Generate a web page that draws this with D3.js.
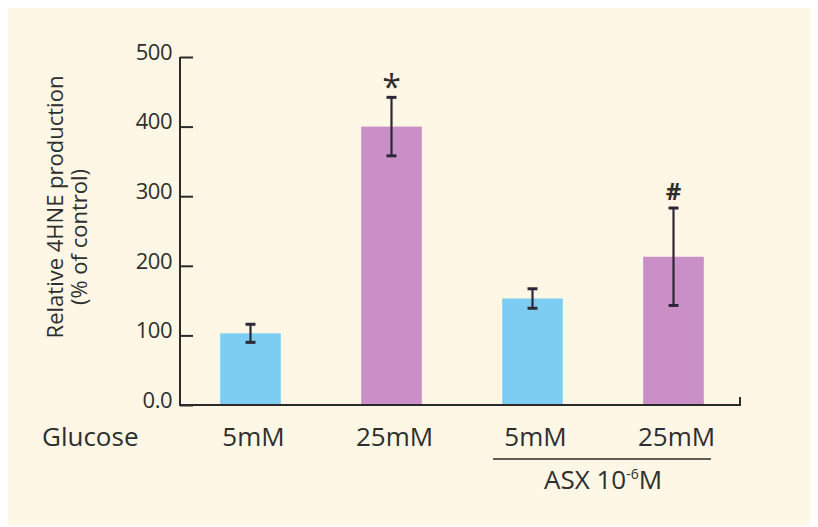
<!DOCTYPE html>
<html lang="en">
  <head>
    <meta charset="utf-8" />
    <title>4HNE production</title>
    <style>
      body { margin: 0; background: #fff; }
      #vis text { font-family: "Open Sans", Lato, sans-serif; fill: #2e2e2e; }
    </style>
  </head>
  <body>
    <div id="vis"></div>
    <script src="https://d3js.org/d3.v7.min.js"></script>
    <script>
      // data
      const groups = ["5mM", "25mM", "5mM ", "25mM "];
      const means = [103, 400, 153, 213];
      const errs = [13, 42, 14, 70];
      const marks = ["", "*", "", "#"];
      const barColors = ["#7dcdf2", "#c98fc6", "#7dcdf2", "#c98fc6"];
      const yTicks = [0, 100, 200, 300, 400, 500];

      const W = 818, H = 527;
      const svg = d3.select("#vis").append("svg").attr("width", W).attr("height", H);

      svg.append("rect").attr("x", 8).attr("y", 8).attr("width", 802).attr("height", 517)
        .attr("fill", "#fef7e6");

      const x = d3.scaleBand().domain(groups).range([180, 744]).paddingInner(0.57).paddingOuter(0.285);
      const y = d3.scaleLinear().domain([0, 500]).range([405, 57]);

      // bars
      svg.selectAll("rect.bar").data(groups).enter().append("rect")
        .attr("class", "bar")
        .attr("x", d => x(d))
        .attr("width", x.bandwidth())
        .attr("y", (d, i) => y(means[i]))
        .attr("height", (d, i) => y(0) - y(means[i]))
        .attr("fill", (d, i) => barColors[i]);

      // error bars
      const eb = svg.append("g").attr("stroke", "#2c2838").attr("stroke-width", 2.2);
      groups.forEach((g, i) => {
        const cx = x(g) + x.bandwidth() / 2;
        eb.append("line").attr("x1", cx).attr("x2", cx).attr("y1", y(means[i] - errs[i])).attr("y2", y(means[i] + errs[i]));
        [means[i] - errs[i], means[i] + errs[i]].forEach(v => {
          eb.append("line").attr("x1", cx - 5).attr("x2", cx + 5).attr("y1", y(v)).attr("y2", y(v)).attr("stroke-width", 3);
        });
        if (marks[i] === "*") {
          svg.append("text").attr("x", cx).attr("y", y(means[i] + errs[i]) + 2)
            .attr("text-anchor", "middle").attr("font-size", 34).text(marks[i]);
        } else if (marks[i]) {
          svg.append("text").attr("x", cx).attr("y", y(means[i] + errs[i]) - 8)
            .attr("text-anchor", "middle").attr("font-size", 24).attr("font-weight", "bold").text(marks[i]);
        }
      });

      // y axis
      const yAxis = d3.axisRight(y).tickValues(yTicks).tickSize(13).tickFormat(d => d === 0 ? "0.0" : d);
      const ya = svg.append("g").attr("transform", "translate(180,0)").call(yAxis);
      ya.select(".domain").remove();
      ya.selectAll(".tick line").attr("stroke", "#2a2a2a").attr("stroke-width", 2);
      ya.selectAll(".tick text").attr("x", -8).attr("text-anchor", "end").attr("dy", "0.1em")
        .attr("font-size", 22).attr("letter-spacing", -0.5);
      svg.append("line").attr("x1", 180).attr("x2", 180).attr("y1", y(500)).attr("y2", y(0) + 1)
        .attr("stroke", "#2a2a2a").attr("stroke-width", 2);

      // x axis line with small end hook
      svg.append("path").attr("d", `M180,${y(0)}H740V${y(0) - 8}`)
        .attr("fill", "none").attr("stroke", "#2a2a2a").attr("stroke-width", 2);

      // category labels
      svg.selectAll("text.cat").data(groups).enter().append("text")
        .attr("class", "cat")
        .attr("x", d => x(d) + x.bandwidth() / 2 + 3)
        .attr("y", 446).attr("text-anchor", "middle").attr("font-size", 26)
        .text(d => d.trim());
      svg.append("text").attr("x", 42).attr("y", 446).attr("font-size", 26).text("Glucose");

      // ASX bracket
      svg.append("line").attr("x1", 493).attr("x2", 711).attr("y1", 459).attr("y2", 459)
        .attr("stroke", "#2a2a2a").attr("stroke-width", 1.5);
      const asx = svg.append("text").attr("x", 603).attr("y", 489).attr("text-anchor", "middle").attr("font-size", 26);
      asx.append("tspan").text("ASX 10");
      asx.append("tspan").attr("dy", -10).attr("font-size", 14).text("-6");
      asx.append("tspan").attr("dy", 10).text("M");

      // y axis title
      svg.append("text").attr("transform", "translate(63,207) rotate(-90)")
        .attr("text-anchor", "middle").attr("font-size", 22).text("Relative 4HNE production");
      svg.append("text").attr("transform", "translate(87,237) rotate(-90)")
        .attr("text-anchor", "middle").attr("font-size", 22).text("(% of control)");
    </script>
  </body>
</html>
